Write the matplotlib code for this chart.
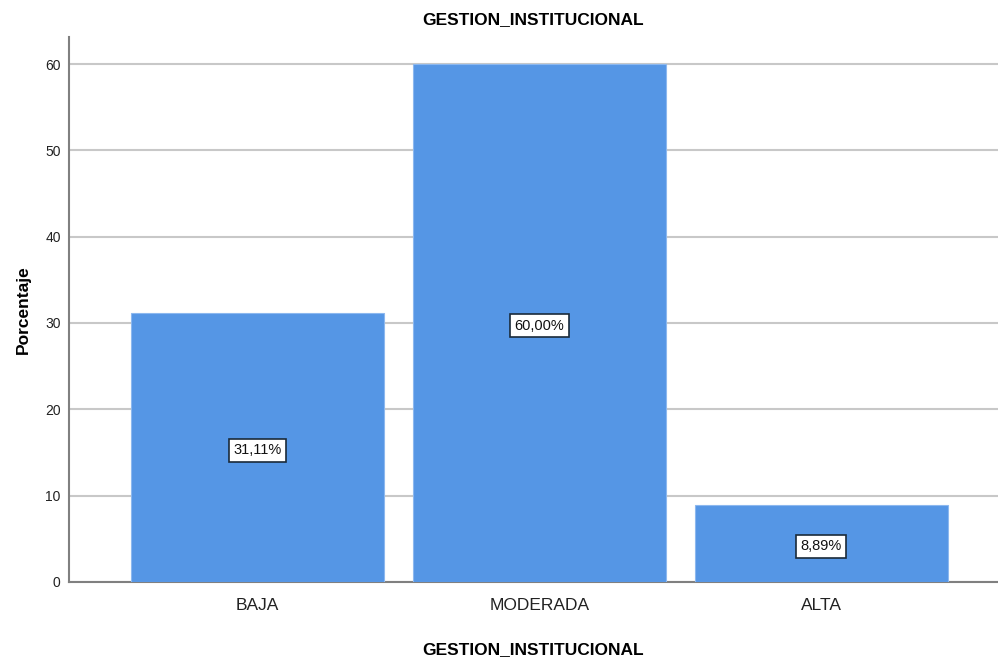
import matplotlib
matplotlib.use("Agg")
import matplotlib.pyplot as plt

plt.rcParams['font.family'] = ['Liberation Sans', 'DejaVu Sans']

categories = ["BAJA", "MODERADA", "ALTA"]
percentages = [31.11, 60.00, 8.89]
yticks = [0, 10, 20, 30, 40, 50, 60]

bar_color = "#5596e5"

fig = plt.figure(figsize=(9.98, 6.63), dpi=100)
ax = fig.add_axes([0.0691, 0.1222, 0.9309, 0.822])

x = list(range(len(categories)))
ax.bar(x, percentages, width=0.897, color=bar_color, edgecolor="#8cb8ef",
       linewidth=0.8, zorder=3)

for xi, val in zip(x, percentages):
    label = ("%.2f%%" % val).replace(".", ",")
    ax.text(xi, val / 2 - 0.3, label, ha="center", va="center", fontsize=10.5,
            color="#111111", zorder=4,
            bbox=dict(boxstyle="square,pad=0.3", facecolor="white",
                      edgecolor="#1a2a3a", linewidth=1.2))

ax.set_xlim(-0.668, 2.626)
ax.set_ylim(0, 63.13)
ax.set_yticks(yticks)
ax.set_xticks(x)
ax.set_xticklabels(categories, fontsize=12.5, color="#222222")
ax.tick_params(axis="y", length=0, labelsize=10, colors="#222222", pad=6)
ax.tick_params(axis="x", length=0, pad=11.5)

ax.grid(axis="y", color="#c8c8c8", linewidth=1.5, zorder=0)
for side in ("top", "right"):
    ax.spines[side].set_visible(False)
for side in ("left", "bottom"):
    ax.spines[side].set_color("#808080")
    ax.spines[side].set_linewidth(1.5)

ax.set_title("GESTION_INSTITUCIONAL", fontsize=12.5, fontweight="bold", pad=9)
ax.set_ylabel("Porcentaje", fontsize=12.5, fontweight="bold", labelpad=10)
ax.set_xlabel("GESTION_INSTITUCIONAL", fontsize=12.5, fontweight="bold",
              labelpad=21)

fig.savefig("out.png", dpi=100)
